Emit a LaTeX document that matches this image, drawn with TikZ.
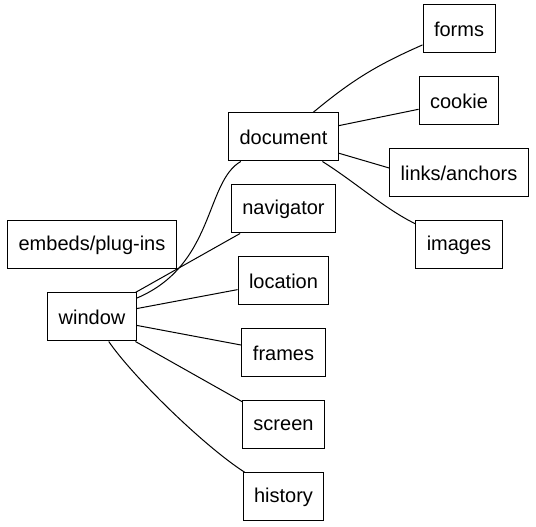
\documentclass[tikz,border=0pt]{standalone}
\usepackage{fontspec}
\setmainfont{Liberation Sans}
\begin{document}
\begin{tikzpicture}[
    x=1pt, y=1pt, line width=1pt,
    every node/.style={draw, font=\fontsize{20}{24}\selectfont,
        minimum width=72pt, minimum height=48pt, inner xsep=11pt}
]
\useasboundingbox (0,0) rectangle (536,527);

% Per-column x positions (pt): left | middle | right, and row step
\def\cl{92}
\def\cm{283.5}
\def\cr{459}
\def\ys{72}

% left column
\node (embeds) at (\cl, 30+3.5*\ys) {embeds/plug-ins};
\node (window) at (\cl, 30+2.5*\ys) {window};

% middle column
\node (document)  at (\cm, 30+5*\ys) {document};
\node (navigator) at (\cm, 30+4*\ys) {navigator};
\node (location)  at (\cm, 30+3*\ys) {location};
\node (frames)    at (\cm, 30+2*\ys) {frames};
\node (screen)    at (\cm, 30+1*\ys) {screen};
\node (history)   at (\cm, 30)       {history};

% right column
\node (forms)  at (\cr, 30+6.5*\ys) {forms};
\node (cookie) at (\cr, 30+5.5*\ys) {cookie};
\node (links)  at (\cr, 30+4.5*\ys) {links/anchors};
\node (images) at (\cr, 30+3.5*\ys) {images};

% window -> middle column
\draw (window) .. controls (215,262) and (205,345) .. (document);
\draw (window) -- (navigator);
\draw (window) -- (location);
\draw (window) -- (frames);
\draw (window) -- (screen);
\draw (window) .. controls (133,150) and (205,80) .. (history);

% document -> right column
\draw (document) to[bend left=8] (forms);
\draw (document) -- (cookie);
\draw (document) -- ([yshift=5pt]links.west);
\draw (document) .. controls (355,345) and (385,318) .. (images);

\end{tikzpicture}
\end{document}
